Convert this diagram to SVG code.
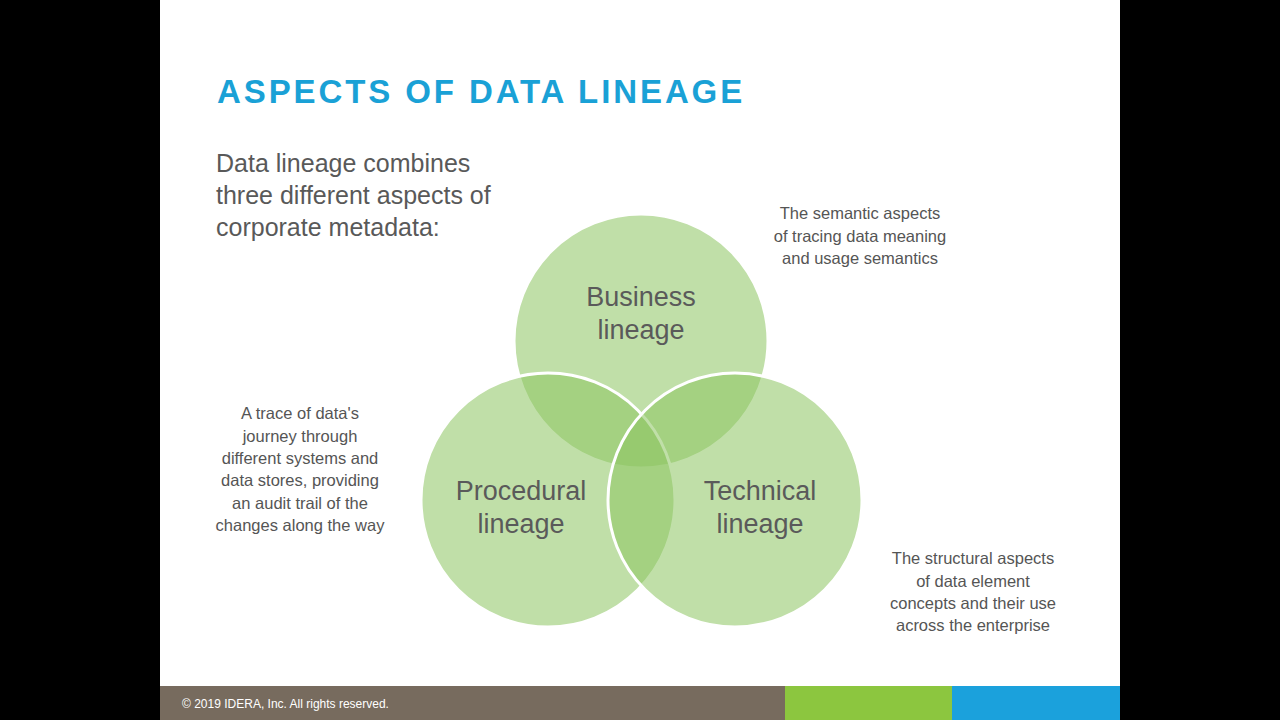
<svg xmlns="http://www.w3.org/2000/svg" width="1280" height="720" viewBox="0 0 1280 720">
<style>
.c{fill:#8dc561;fill-opacity:0.55;stroke:#fff;stroke-width:3}
.lbl{font-family:"Liberation Sans",Arial,sans-serif;font-size:27px;fill:#5a5a5a;text-anchor:middle}
.note{font-family:"Liberation Sans",Arial,sans-serif;font-size:16.5px;fill:#555;text-anchor:middle}
</style>
<rect width="1280" height="720" fill="#000"/>
<rect x="160" y="0" width="960" height="720" fill="#fff"/>
<text x="217" y="103" font-family="Liberation Sans,Arial,sans-serif" font-weight="bold" font-size="33" letter-spacing="2.9" fill="#1aa1d6">ASPECTS OF DATA LINEAGE</text>
<g font-family="Liberation Sans,Arial,sans-serif" font-size="25" fill="#595959">
<text x="216" y="172">Data lineage combines</text>
<text x="216" y="204">three different aspects of</text>
<text x="216" y="236">corporate metadata:</text>
</g>
<g id="business"><circle class="c" cx="641" cy="341" r="127"/>
<text class="lbl" x="641" y="306">Business</text><text class="lbl" x="641" y="339">lineage</text></g>
<g id="procedural"><circle class="c" cx="548" cy="500" r="127"/>
<text class="lbl" x="521" y="500">Procedural</text><text class="lbl" x="521" y="533">lineage</text></g>
<g id="technical"><circle class="c" cx="735" cy="500" r="127"/>
<text class="lbl" x="760" y="500">Technical</text><text class="lbl" x="760" y="533">lineage</text></g>
<g id="notes">
<text class="note" x="860" y="219">The semantic aspects</text>
<text class="note" x="860" y="242">of tracing data meaning</text>
<text class="note" x="860" y="264">and usage semantics</text>
<text class="note" x="300" y="419">A trace of data's</text>
<text class="note" x="300" y="442">journey through</text>
<text class="note" x="300" y="464">different systems and</text>
<text class="note" x="300" y="486">data stores, providing</text>
<text class="note" x="300" y="509">an audit trail of the</text>
<text class="note" x="300" y="531">changes along the way</text>
<text class="note" x="973" y="564">The structural aspects</text>
<text class="note" x="973" y="587">of data element</text>
<text class="note" x="973" y="609">concepts and their use</text>
<text class="note" x="973" y="631">across the enterprise</text>
</g>
<rect x="160" y="686" width="625" height="34" fill="#776b5e"/>
<rect x="785" y="686" width="167" height="34" fill="#8cc63f"/>
<rect x="952" y="686" width="168" height="34" fill="#1ba1dc"/>
<text x="182" y="708" font-family="Liberation Sans,Arial,sans-serif" font-size="12" fill="#fff">© 2019 IDERA, Inc. All rights reserved.</text>
</svg>
